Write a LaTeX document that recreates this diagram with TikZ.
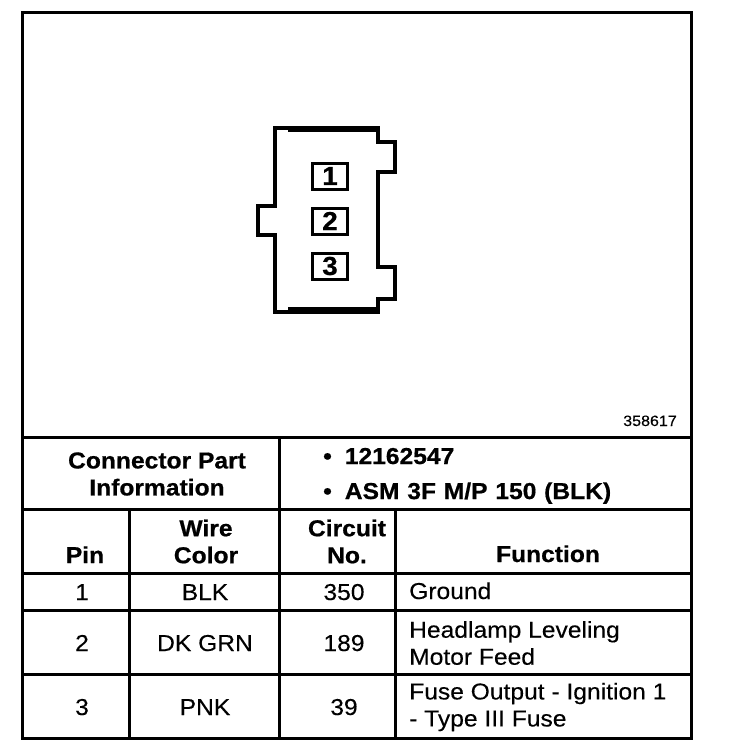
\documentclass[tikz,border=0pt]{standalone}
\usepackage{fontspec}
\setmainfont[FakeStretch=1.07,FakeBold=0.25,BoldFeatures={FakeBold=0.7}]{Liberation Sans}
\tikzset{
  rule/.style={line width=3pt,line cap=rect},
  body/.style={line width=4pt,line join=miter},
  heavy/.style={line width=6pt},
  pinbox/.style={draw,line width=3pt,minimum width=35pt,minimum height=26pt,inner sep=0pt,font=\fontsize{26}{26}\selectfont\bfseries},
  head/.style={inner sep=0pt,align=center,font=\fontsize{23}{27}\selectfont\bfseries},
  headl/.style={inner sep=0pt,anchor=base west,font=\fontsize{23}{27}\selectfont\bfseries},
  cell/.style={inner sep=0pt,anchor=base,font=\fontsize{23}{27}\selectfont},
  func/.style={inner sep=0pt,anchor=west,align=left,font=\fontsize{23}{27}\selectfont},
}
\begin{document}
\begin{tikzpicture}[x=1pt,y=-1pt]
\useasboundingbox (0,0) rectangle (736,752);
% frame and table rules
\draw[rule] (22,13) rectangle (691,738);
\draw[rule] (22,437) -- (691,437);
\draw[rule] (22,509) -- (691,509);
\draw[rule] (22,573) -- (691,573);
\draw[rule] (22,610) -- (691,610);
\draw[rule] (22,674.5) -- (691,674.5);
\draw[rule] (279,437) -- (279,738);
\draw[rule] (129,509) -- (129,738);
\draw[rule] (395,509) -- (395,738);
% connector body
\draw[body] (275,128) -- (378,128) -- (378,142) -- (395,142) -- (395,172) -- (378,172)
  -- (378,267) -- (395,267) -- (395,299) -- (378,299) -- (378,312) -- (275,312)
  -- (275,235) -- (258,235) -- (258,206) -- (275,206) -- cycle;
\draw[heavy] (288,129) -- (380,129);
\draw[heavy] (288,310) -- (380,310);
\node[pinbox] (p1) at (330,176) {1};
\node[pinbox] (p2) at (330,221) {2};
\node[pinbox] (p3) at (330,266) {3};
% texts
\node[inner sep=0pt,anchor=base east,font=\fontsize{15}{16}\selectfont] (ref) at (677,426) {358617};
\node[head] (cpi) at (157,474) {Connector Part\\Information};
\node[headl] (num) at (323,464) {•\hspace{13pt}12162547};
\node[headl] (asm) at (323,499) {•\hspace{13pt}\spaceskip=7.8pt ASM 3F M/P 150 (BLK)};
\node[head,anchor=base] (hpin) at (85,563) {Pin};
\node[head] (hwire) at (206,541.5) {Wire\\Color};
\node[head] (hcirc) at (347,541.5) {Circuit\\No.};
\node[head,anchor=base] (hfunc) at (548,562) {Function};
\node[cell] (a1) at (82,600) {1};
\node[cell] (b1) at (205,600) {BLK};
\node[cell] (c1) at (344,600) {350};
\node[func,anchor=base west] (d1) at (409,599) {Ground};
\node[cell] (a2) at (82,651) {2};
\node[cell] (b2) at (205,651) {DK GRN};
\node[cell] (c2) at (344,651) {189};
\node[func] (d2) at (409,643) {Headlamp Leveling\\Motor Feed};
\node[cell] (a3) at (82,715) {3};
\node[cell] (b3) at (205,715) {PNK};
\node[cell] (c3) at (344,715) {39};
\node[func] (d3) at (409,707) {Fuse Output - Ignition 1\\- Type III Fuse};
\end{tikzpicture}
\end{document}
